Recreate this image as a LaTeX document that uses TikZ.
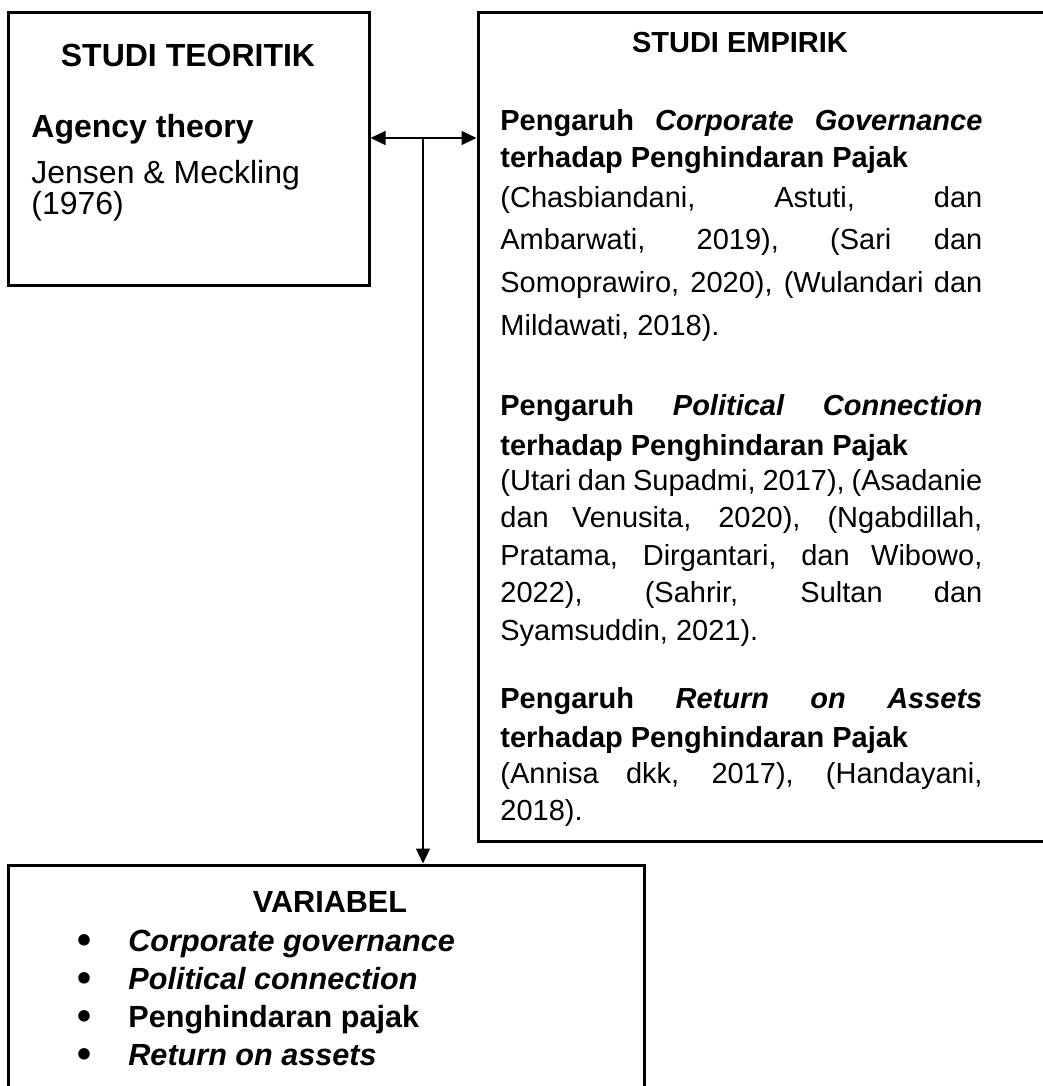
\documentclass[tikz,border=0pt]{standalone}
\usepackage{fontspec}
\setmainfont{Liberation Sans}
\usetikzlibrary{arrows.meta}

% justified line of the citation texts
\newcommand{\jl}[1]{\makebox[241pt][s]{#1}}

\begin{document}
\begin{tikzpicture}[x=0.5pt,y=-0.5pt,>={Triangle[length=7.5pt,width=7pt]},
    box/.style={draw, line width=1.5pt, inner sep=0pt},
    head/.style={anchor=base, inner sep=0pt, font=\fontsize{14.5}{19}\selectfont\bfseries},
    txt/.style={anchor=base west, inner sep=0pt, align=left},
    link/.style={line width=0.6pt}]
    \useasboundingbox (0,0) rectangle (1043,1086);
    \clip (0,0) rectangle (1043,1086);

    % boxes
    \node[box, minimum width=180.5pt, minimum height=136pt] (teori) at (188.5,149) {};
    \node[box, minimum width=291pt, minimum height=414pt] (empiri) at (769,427) {};
    \node[box, minimum width=318pt, minimum height=122.5pt] (var) at (326,987.5) {};

    % studi teoritik (multi-line texts sit on their last line)
    \node[head, font=\fontsize{16}{19}\selectfont\bfseries] (tTitle) at (188,67) {STUDI TEORITIK};
    \node[txt, font=\fontsize{16}{19}\selectfont\bfseries] (agency) at (31,138) {Agency theory};
    \node[txt, font=\fontsize{16}{15.5}\selectfont] (jensen) at (31,214) {Jensen \& Meckling\\(1976)};

    % studi empirik
    \node[head] (eTitle) at (740,53) {STUDI EMPIRIK};
    \node[txt, font=\fontsize{14.5}{18.5}\selectfont\bfseries] (cgHead) at (500,167)
        {\jl{Pengaruh \textit{Corporate Governance}}\\terhadap Penghindaran Pajak};
    \node[txt, font=\fontsize{14.5}{21.3}\selectfont] (cgCite) at (500,335)
        {\jl{(Chasbiandani, Astuti, dan}\\\jl{Ambarwati, 2019), (Sari dan}\\
         \jl{Somoprawiro, 2020), (Wulandari dan}\\Mildawati, 2018).};
    \node[txt, font=\fontsize{14.5}{20}\selectfont\bfseries] (pcHead) at (500,455)
        {\jl{Pengaruh \textit{Political Connection}}\\terhadap Penghindaran Pajak};
    \node[txt, font=\fontsize{14.5}{18.75}\selectfont] (pcCite) at (500,640)
        {\jl{(Utari dan Supadmi, 2017), (Asadanie}\\\jl{dan Venusita, 2020), (Ngabdillah,}\\
         \jl{Pratama, Dirgantari, dan Wibowo,}\\\jl{2022), (Sahrir, Sultan dan}\\
         Syamsuddin, 2021).};
    \node[txt, font=\fontsize{14.5}{19.5}\selectfont\bfseries] (roaHead) at (500,747)
        {\jl{Pengaruh \textit{Return on Assets}}\\terhadap Penghindaran Pajak};
    \node[txt, font=\fontsize{14.5}{18.5}\selectfont] (roaCite) at (500,820)
        {\jl{(Annisa dkk, 2017), (Handayani,}\\2018).};

    % variabel
    \node[head, font=\fontsize{15.3}{19}\selectfont\bfseries] (vTitle) at (330,912) {VARIABEL};
    \foreach \t [count=\i] in {\textit{Corporate governance}, \textit{Political connection},
        Penghindaran pajak, \textit{Return on assets}} {
        \node[head, font=\fontsize{20}{19}\selectfont\bfseries] (b\i) at (85,915+38*\i) {•};
        \node[txt, font=\fontsize{15.3}{19}\selectfont\bfseries] (v\i) at (128,913+38*\i) {\t};
    }

    % connectors
    \coordinate (j) at (423,138);
    \draw[link, <->] (teori.east |- j) -- (empiri.west |- j);
    \draw[link, ->] (j) -- (var.north -| j);
\end{tikzpicture}
\end{document}
